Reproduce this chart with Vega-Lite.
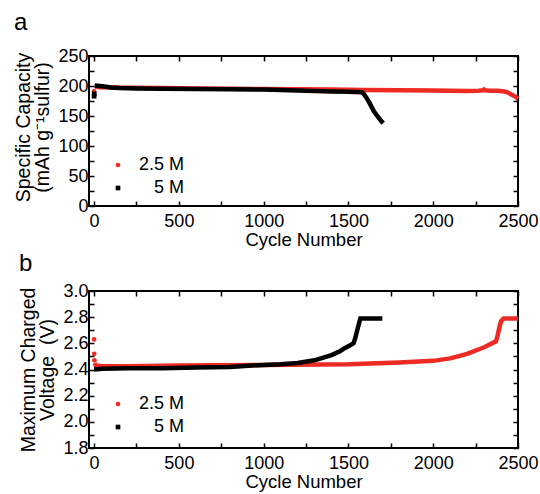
{
  "$schema": "https://vega.github.io/schema/vega-lite/v6.json",
  "padding": {"left": 12, "top": 10, "right": 5, "bottom": 0},
  "spacing": 1,
  "config": {
    "font": "Liberation Sans",
    "view": {"stroke": "#000000", "strokeWidth": 2},
    "axis": {"grid": false, "domain": false, "tickSize": -5, "tickWidth": 1.5, "tickColor": "#000000", "labelColor": "#000000", "titleColor": "#000000", "labelFontSize": 18, "titleFontSize": 19.5, "titleFontWeight": "normal", "labelFlush": false, "labelOverlap": false},
    "axisX": {"labelPadding": 11, "titlePadding": 0, "titleFontSize": 18.5},
    "axisY": {"labelPadding": 6, "titlePadding": 5},
    "legend": {"orient": "none", "title": null, "labelFontSize": 18, "labelColor": "#000000", "symbolSize": 22, "labelOffset": 57, "labelAlign": "right", "rowPadding": 5, "padding": 0, "symbolStrokeWidth": 0},
    "title": {"anchor": "start", "frame": "bounds", "fontSize": 24, "fontWeight": "normal", "color": "#000000", "dx": 0}
  },
  "resolve": {"scale": {"x": "independent", "y": "independent", "color": "independent", "shape": "independent"}, "legend": {"color": "independent", "shape": "independent"}},
  "datasets": {
    "cap": [
      {"cycle": 0, "value": 191, "series": "2.5 M", "seg": 1},
      {"cycle": 5, "value": 199, "series": "2.5 M", "seg": 0},
      {"cycle": 30, "value": 198, "series": "2.5 M", "seg": 0},
      {"cycle": 100, "value": 197.5, "series": "2.5 M", "seg": 0},
      {"cycle": 200, "value": 197, "series": "2.5 M", "seg": 0},
      {"cycle": 400, "value": 196.5, "series": "2.5 M", "seg": 0},
      {"cycle": 600, "value": 196, "series": "2.5 M", "seg": 0},
      {"cycle": 800, "value": 195.5, "series": "2.5 M", "seg": 0},
      {"cycle": 1000, "value": 195, "series": "2.5 M", "seg": 0},
      {"cycle": 1200, "value": 194.5, "series": "2.5 M", "seg": 0},
      {"cycle": 1400, "value": 194, "series": "2.5 M", "seg": 0},
      {"cycle": 1600, "value": 193.5, "series": "2.5 M", "seg": 0},
      {"cycle": 1800, "value": 193, "series": "2.5 M", "seg": 0},
      {"cycle": 2000, "value": 192.5, "series": "2.5 M", "seg": 0},
      {"cycle": 2100, "value": 192, "series": "2.5 M", "seg": 0},
      {"cycle": 2200, "value": 191.5, "series": "2.5 M", "seg": 0},
      {"cycle": 2270, "value": 192, "series": "2.5 M", "seg": 0},
      {"cycle": 2295, "value": 193, "series": "2.5 M", "seg": 0},
      {"cycle": 2300, "value": 194, "series": "2.5 M", "seg": 0},
      {"cycle": 2305, "value": 193, "series": "2.5 M", "seg": 0},
      {"cycle": 2330, "value": 192, "series": "2.5 M", "seg": 0},
      {"cycle": 2380, "value": 192, "series": "2.5 M", "seg": 0},
      {"cycle": 2420, "value": 191, "series": "2.5 M", "seg": 0},
      {"cycle": 2440, "value": 189, "series": "2.5 M", "seg": 0},
      {"cycle": 2460, "value": 186, "series": "2.5 M", "seg": 0},
      {"cycle": 2480, "value": 183, "series": "2.5 M", "seg": 0},
      {"cycle": 2500, "value": 179, "series": "2.5 M", "seg": 0},
      {"cycle": 0, "value": 183, "series": "5 M", "seg": 1},
      {"cycle": 1, "value": 187, "series": "5 M", "seg": 2},
      {"cycle": 3, "value": 201, "series": "5 M", "seg": 0},
      {"cycle": 20, "value": 200.5, "series": "5 M", "seg": 0},
      {"cycle": 50, "value": 199.5, "series": "5 M", "seg": 0},
      {"cycle": 100, "value": 197.5, "series": "5 M", "seg": 0},
      {"cycle": 150, "value": 196.5, "series": "5 M", "seg": 0},
      {"cycle": 250, "value": 196, "series": "5 M", "seg": 0},
      {"cycle": 400, "value": 195.5, "series": "5 M", "seg": 0},
      {"cycle": 600, "value": 195, "series": "5 M", "seg": 0},
      {"cycle": 800, "value": 194.5, "series": "5 M", "seg": 0},
      {"cycle": 1000, "value": 194, "series": "5 M", "seg": 0},
      {"cycle": 1150, "value": 193, "series": "5 M", "seg": 0},
      {"cycle": 1250, "value": 192, "series": "5 M", "seg": 0},
      {"cycle": 1300, "value": 191.5, "series": "5 M", "seg": 0},
      {"cycle": 1400, "value": 191, "series": "5 M", "seg": 0},
      {"cycle": 1500, "value": 190.5, "series": "5 M", "seg": 0},
      {"cycle": 1580, "value": 189.5, "series": "5 M", "seg": 0},
      {"cycle": 1590, "value": 187, "series": "5 M", "seg": 0},
      {"cycle": 1605, "value": 181, "series": "5 M", "seg": 0},
      {"cycle": 1620, "value": 174, "series": "5 M", "seg": 0},
      {"cycle": 1635, "value": 166, "series": "5 M", "seg": 0},
      {"cycle": 1650, "value": 158, "series": "5 M", "seg": 0},
      {"cycle": 1670, "value": 150, "series": "5 M", "seg": 0},
      {"cycle": 1690, "value": 143, "series": "5 M", "seg": 0},
      {"cycle": 1705, "value": 138, "series": "5 M", "seg": 0}
    ],
    "volt": [
      {"cycle": 0, "value": 2.63, "series": "2.5 M", "seg": 1},
      {"cycle": 1, "value": 2.52, "series": "2.5 M", "seg": 2},
      {"cycle": 2, "value": 2.47, "series": "2.5 M", "seg": 3},
      {"cycle": 4, "value": 2.45, "series": "2.5 M", "seg": 0},
      {"cycle": 10, "value": 2.43, "series": "2.5 M", "seg": 0},
      {"cycle": 50, "value": 2.425, "series": "2.5 M", "seg": 0},
      {"cycle": 200, "value": 2.425, "series": "2.5 M", "seg": 0},
      {"cycle": 500, "value": 2.43, "series": "2.5 M", "seg": 0},
      {"cycle": 1000, "value": 2.435, "series": "2.5 M", "seg": 0},
      {"cycle": 1500, "value": 2.44, "series": "2.5 M", "seg": 0},
      {"cycle": 1800, "value": 2.453, "series": "2.5 M", "seg": 0},
      {"cycle": 2000, "value": 2.466, "series": "2.5 M", "seg": 0},
      {"cycle": 2100, "value": 2.485, "series": "2.5 M", "seg": 0},
      {"cycle": 2200, "value": 2.52, "series": "2.5 M", "seg": 0},
      {"cycle": 2300, "value": 2.57, "series": "2.5 M", "seg": 0},
      {"cycle": 2370, "value": 2.615, "series": "2.5 M", "seg": 0},
      {"cycle": 2380, "value": 2.66, "series": "2.5 M", "seg": 0},
      {"cycle": 2390, "value": 2.72, "series": "2.5 M", "seg": 0},
      {"cycle": 2400, "value": 2.77, "series": "2.5 M", "seg": 0},
      {"cycle": 2415, "value": 2.79, "series": "2.5 M", "seg": 0},
      {"cycle": 2500, "value": 2.79, "series": "2.5 M", "seg": 0},
      {"cycle": 0, "value": 2.4, "series": "5 M", "seg": 0},
      {"cycle": 50, "value": 2.405, "series": "5 M", "seg": 0},
      {"cycle": 200, "value": 2.41, "series": "5 M", "seg": 0},
      {"cycle": 400, "value": 2.41, "series": "5 M", "seg": 0},
      {"cycle": 600, "value": 2.415, "series": "5 M", "seg": 0},
      {"cycle": 800, "value": 2.42, "series": "5 M", "seg": 0},
      {"cycle": 1000, "value": 2.435, "series": "5 M", "seg": 0},
      {"cycle": 1100, "value": 2.44, "series": "5 M", "seg": 0},
      {"cycle": 1200, "value": 2.45, "series": "5 M", "seg": 0},
      {"cycle": 1300, "value": 2.47, "series": "5 M", "seg": 0},
      {"cycle": 1400, "value": 2.51, "series": "5 M", "seg": 0},
      {"cycle": 1450, "value": 2.54, "series": "5 M", "seg": 0},
      {"cycle": 1480, "value": 2.565, "series": "5 M", "seg": 0},
      {"cycle": 1510, "value": 2.585, "series": "5 M", "seg": 0},
      {"cycle": 1530, "value": 2.6, "series": "5 M", "seg": 0},
      {"cycle": 1540, "value": 2.64, "series": "5 M", "seg": 0},
      {"cycle": 1550, "value": 2.69, "series": "5 M", "seg": 0},
      {"cycle": 1560, "value": 2.74, "series": "5 M", "seg": 0},
      {"cycle": 1570, "value": 2.79, "series": "5 M", "seg": 0},
      {"cycle": 1600, "value": 2.79, "series": "5 M", "seg": 0},
      {"cycle": 1650, "value": 2.79, "series": "5 M", "seg": 0},
      {"cycle": 1700, "value": 2.79, "series": "5 M", "seg": 0}
    ]
  },
  "vconcat": [
    {
      "title": {"text": "a", "offset": 12},
      "width": 429,
      "height": 150,
      "data": {"name": "cap"},
      "layer": [
        {
          "mark": {"type": "point", "opacity": 0},
          "encoding": {
            "x": {"field": "cycle", "type": "quantitative", "scale": {"domain": [-30, 2500], "nice": false}, "axis": {"orient": "top", "values": [0, 250, 500, 750, 1000, 1250, 1500, 1750, 2000, 2250, 2500], "labels": false, "title": null}},
            "y": {"field": "value", "type": "quantitative", "scale": {"domain": [0, 250], "nice": false}, "axis": {"orient": "right", "values": [0, 25, 50, 75, 100, 125, 150, 175, 200, 225, 250], "labels": false, "title": null}}
          }
        },
        {
          "transform": [{"filter": "datum.series == '2.5 M'"}],
          "mark": {"type": "line", "strokeWidth": 4.5, "color": "#ee2a24"},
          "encoding": {
            "x": {"field": "cycle", "type": "quantitative", "scale": {"domain": [-30, 2500], "nice": false}, "axis": {"orient": "bottom", "values": [0, 250, 500, 750, 1000, 1250, 1500, 1750, 2000, 2250, 2500], "format": "d", "labelExpr": "datum.value % 500 == 0 ? datum.label : ''", "title": "Cycle Number"}},
            "y": {"field": "value", "type": "quantitative", "scale": {"domain": [0, 250], "nice": false}, "axis": {"orient": "left", "values": [0, 25, 50, 75, 100, 125, 150, 175, 200, 225, 250], "labelExpr": "datum.value % 50 == 0 ? datum.label : ''", "title": ["Specific Capacity", "(mAh g⁻¹sulfur)"], "titleLineHeight": 19, "titleY": 71}},
            "detail": {"field": "seg", "type": "nominal"}
          }
        },
        {
          "transform": [{"filter": "datum.series == '5 M'"}],
          "mark": {"type": "line", "strokeWidth": 4.5, "color": "#000000"},
          "encoding": {
            "x": {"field": "cycle", "type": "quantitative", "scale": {"domain": [-30, 2500], "nice": false}, "axis": null},
            "y": {"field": "value", "type": "quantitative", "scale": {"domain": [0, 250], "nice": false}, "axis": null},
            "detail": {"field": "seg", "type": "nominal"}
          }
        },
        {
          "transform": [{"filter": "datum.seg > 0"}],
          "mark": {"type": "point", "filled": true, "size": 22, "opacity": 1},
          "encoding": {
            "x": {"field": "cycle", "type": "quantitative", "scale": {"domain": [-30, 2500], "nice": false}, "axis": null},
            "y": {"field": "value", "type": "quantitative", "scale": {"domain": [0, 250], "nice": false}, "axis": null},
            "color": {"field": "series", "type": "nominal", "scale": {"domain": ["2.5 M", "5 M"], "range": ["#ee2a24", "#000000"]}, "legend": {"orient": "none", "legendX": 20, "legendY": 100}},
            "shape": {"field": "series", "type": "nominal", "scale": {"domain": ["2.5 M", "5 M"], "range": ["circle", "square"]}, "legend": {"orient": "none", "legendX": 20, "legendY": 100}}
          }
        }
      ]
    },
    {
      "title": {"text": "b", "offset": 6},
      "width": 429,
      "height": 157,
      "data": {"name": "volt"},
      "layer": [
        {
          "mark": {"type": "point", "opacity": 0},
          "encoding": {
            "x": {"field": "cycle", "type": "quantitative", "scale": {"domain": [-30, 2500], "nice": false}, "axis": {"orient": "top", "values": [0, 250, 500, 750, 1000, 1250, 1500, 1750, 2000, 2250, 2500], "labels": false, "title": null}},
            "y": {"field": "value", "type": "quantitative", "scale": {"domain": [1.8, 3.0], "nice": false, "zero": false}, "axis": {"orient": "right", "values": [1.8, 1.9, 2.0, 2.1, 2.2, 2.3, 2.4, 2.5, 2.6, 2.7, 2.8, 2.9, 3.0], "labels": false, "title": null}}
          }
        },
        {
          "transform": [{"filter": "datum.series == '2.5 M'"}],
          "mark": {"type": "line", "strokeWidth": 4.5, "color": "#ee2a24"},
          "encoding": {
            "x": {"field": "cycle", "type": "quantitative", "scale": {"domain": [-30, 2500], "nice": false}, "axis": {"orient": "bottom", "values": [0, 250, 500, 750, 1000, 1250, 1500, 1750, 2000, 2250, 2500], "format": "d", "labelExpr": "datum.value % 500 == 0 ? datum.label : ''", "title": "Cycle Number"}},
            "y": {"field": "value", "type": "quantitative", "scale": {"domain": [1.8, 3.0], "nice": false, "zero": false}, "axis": {"orient": "left", "values": [1.8, 1.9, 2.0, 2.1, 2.2, 2.3, 2.4, 2.5, 2.6, 2.7, 2.8, 2.9, 3.0], "format": ".1f", "labelExpr": "round(datum.value * 10) % 2 == 0 ? datum.label : ''", "title": ["Maximum Charged", "Voltage\u00a0\u00a0(V)"], "titleLineHeight": 19}},
            "detail": {"field": "seg", "type": "nominal"}
          }
        },
        {
          "transform": [{"filter": "datum.series == '5 M'"}],
          "mark": {"type": "line", "strokeWidth": 4.5, "color": "#000000"},
          "encoding": {
            "x": {"field": "cycle", "type": "quantitative", "scale": {"domain": [-30, 2500], "nice": false}, "axis": null},
            "y": {"field": "value", "type": "quantitative", "scale": {"domain": [1.8, 3.0], "nice": false, "zero": false}, "axis": null},
            "detail": {"field": "seg", "type": "nominal"}
          }
        },
        {
          "transform": [{"filter": "datum.seg > 0"}],
          "mark": {"type": "point", "filled": true, "size": 22, "opacity": 1},
          "encoding": {
            "x": {"field": "cycle", "type": "quantitative", "scale": {"domain": [-30, 2500], "nice": false}, "axis": null},
            "y": {"field": "value", "type": "quantitative", "scale": {"domain": [1.8, 3.0], "nice": false, "zero": false}, "axis": null},
            "color": {"field": "series", "type": "nominal", "scale": {"domain": ["2.5 M", "5 M"], "range": ["#ee2a24", "#000000"]}, "legend": {"orient": "none", "legendX": 20, "legendY": 104}},
            "shape": {"field": "series", "type": "nominal", "scale": {"domain": ["2.5 M", "5 M"], "range": ["circle", "square"]}, "legend": {"orient": "none", "legendX": 20, "legendY": 104}}
          }
        }
      ]
    }
  ]
}
